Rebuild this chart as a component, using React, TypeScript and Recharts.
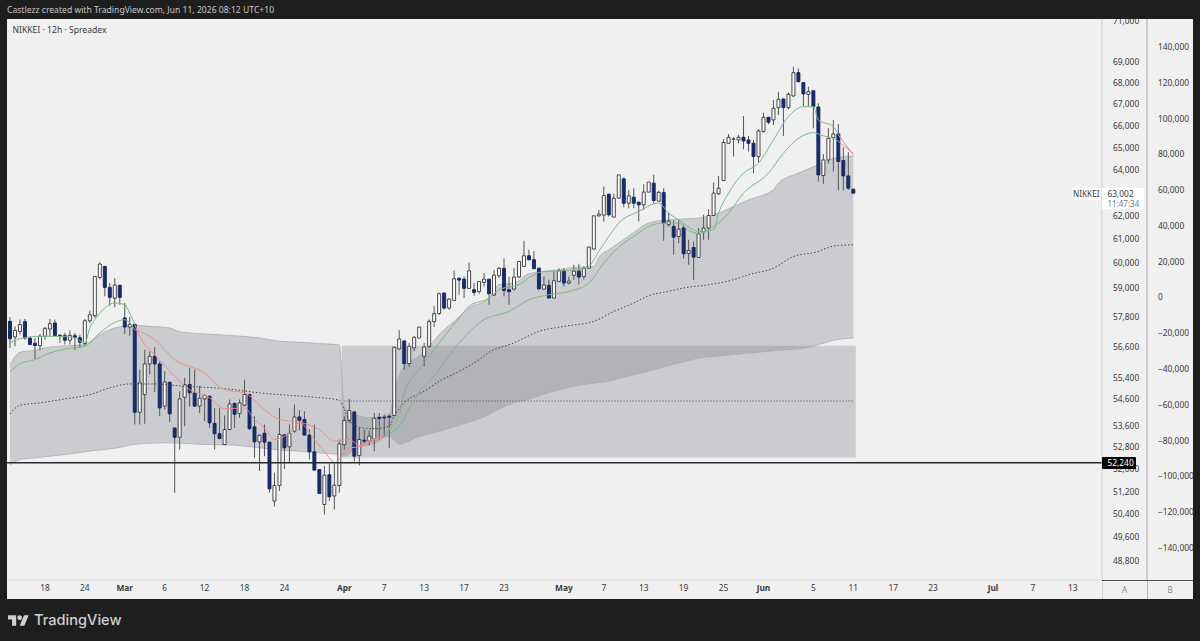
import React from "react";
import { ComposedChart, Area, Bar, Cell, Line, XAxis, YAxis, ReferenceArea, ReferenceLine } from "recharts";

const opens = [
  57630,57010,57230,57620,56970,56760,56670,57035,57325,57565,
  57075,57060,56880,57060,56980,56750,57655,57855,59415,59870,
  59005,58560,59090,57765,57405,57510,54105,54775,55950,56250,
  55950,54335,55245,53520,53175,54670,55155,54840,54335,54610,
  54710,53685,53305,52905,53460,54435,54055,54370,54775,53560,
  53005,53325,52995,50870,51425,53265,52820,53400,53930,53830,
  53255,52640,51995,50750,51810,51050,51425,52905,53795,54120,
  52505,53065,53030,53130,53920,53920,53955,53980,56535,56850,
  55965,56575,56970,56250,56640,57620,57940,58775,58165,58475,
  59375,59345,58965,58910,58840,59210,59345,58690,59485,59790,
  58910,58935,59430,59870,60315,60150,59800,58935,59090,58570,
  59250,59690,59185,59500,59675,59455,59800,60595,62010,62040,
  62950,61955,62775,63620,62555,62820,62600,62485,63040,63435,
  62645,63025,61630,61555,61130,61495,60410,60665,60245,61325,
  61485,62025,62965,63550,65215,65395,65365,65485,65365,65215,
  64615,65745,66400,66280,66850,67250,66850,67390,68490,68020,
  67470,67640,66880,63770,64465,65470,65640,64435,63755,63170,
];
const closes = [
  56940,57270,57500,56970,56710,56670,57040,57350,57540,57060,
  57035,56880,57075,57000,56800,57655,57895,59455,59970,59005,
  58600,59100,58600,57405,57510,54105,55220,55950,56250,55950,
  54270,55255,54045,53175,54610,55155,54840,54335,54635,54740,
  53710,53305,53130,53460,54420,54030,54460,54775,53495,53005,
  53250,52995,51305,51425,53280,52785,53325,53930,53805,53255,
  52640,51975,51140,51795,51025,51435,52930,53795,54170,52480,
  53090,53030,53215,53880,53870,53895,53920,56600,56930,55965,
  56640,56995,57405,56615,57630,57940,58745,58165,58530,59360,
  59305,58965,59690,58800,59250,59345,58745,59510,59790,58880,
  58830,59430,60080,60315,60150,59775,58950,59105,58570,59280,
  59690,59185,59265,59675,59430,59790,60680,62010,62085,62890,
  62055,62775,63800,62555,62880,62555,62485,63040,63480,62675,
  63025,61700,61785,61100,61440,60395,60540,60260,61240,61485,
  62025,62995,63215,65250,65485,65410,65485,65320,65215,64615,
  65775,66400,66175,66815,67235,66850,67470,68490,68065,67485,
  67595,66895,63800,64465,65440,65640,64395,63755,63215,62995,
];
const highs = [
  57800,57430,57700,57720,56970,56960,57130,57405,57720,57700,
  57130,57170,57270,57170,57100,57720,58070,59455,60040,59900,
  59185,59385,59115,58370,57805,57540,55730,56510,56445,56615,
  56050,55665,55245,53520,54900,55410,55795,55730,55115,54775,
  54740,54270,54270,53980,54585,54485,54585,55345,54810,53955,
  53280,53645,52995,51880,54270,53280,53645,54395,54185,54145,
  53460,53645,52020,52120,52215,52215,53090,53955,54610,54145,
  53520,53460,53435,54080,54080,54020,54020,56640,57275,56903,
  56770,57035,57405,56770,57700,58235,58800,58800,58570,59705,
  59430,59455,60035,59185,59250,59595,59345,59735,59845,60205,
  59455,59800,60080,60945,60570,60500,59800,59455,59320,59665,
  59800,59800,59455,59940,59980,59870,60705,62010,62270,63290,
  62965,62965,63800,63695,63140,63210,62630,63390,63480,63800,
  63110,63215,62155,61810,61840,61625,60988,60915,61485,62055,
  62300,63460,63755,65400,65640,65485,65595,66460,65550,65365,
  65850,66615,66430,67205,67595,67285,67550,68775,68695,68020,
  67830,67640,67050,64735,65900,66280,66095,65035,64810,63170,
];
const lows = [
  56575,56640,57100,56900,56710,56145,56485,56900,57035,57035,
  56770,56710,56710,56510,56575,56670,57565,57760,59345,58640,
  58260,58195,58300,57130,57060,53645,53645,53680,55540,54860,
  53955,54205,53735,51165,52725,53585,54310,54310,54080,53770,
  53520,52725,53090,52905,53460,53520,53895,54335,53435,52420,
  51940,52480,51165,50670,51225,52020,52240,53340,53435,53240,
  52360,51975,51140,50400,50870,50575,51165,52725,53710,52300,
  52145,52945,52870,52660,53090,53190,52785,53955,56510,55731,
  55835,56445,56970,55860,56575,57405,57900,58100,58100,58475,
  58705,58570,58935,58665,58745,59045,58300,58665,59390,58635,
  58300,58880,59390,59870,60120,59760,58880,58910,58570,58570,
  59250,59045,59120,59320,59120,59320,59760,60595,61985,61770,
  61985,61955,62775,62385,62340,62340,61770,62270,63040,62530,
  62630,60945,61555,60355,60845,60190,59940,59320,60245,60988,
  60988,62010,62920,63550,65215,64615,65215,64945,64840,63875,
  64365,65700,66095,66050,66510,65550,66770,67360,68020,66925,
  66895,65900,63505,63405,64290,63950,63110,63110,63140,62995,
];

// [candle number, upper, lower] of the anchored VWAP-style band
const bandPoints: [number, number, number][] = [
  [1,55925,52160],[3,56405,52360],[6,56485,52420],[9,56615,52480],[12,56655,52540],
  [16,56710,52640],[18,56970,52690],[20,57205,52730],[22,57365,52770],[26,57470,52920],
  [29,57430,52955],[33,57365,52970],[35,57220,52960],[39,57140,52915],[46,57060,52885],
  [51,56970,52790],[55,56840,52710],[59,56800,52660],[63,56750,52600],[67,56695,52540],
  [68,54335,52480],[70,54020,52724],[74,53895,52950],[77,54020,53215],[78,54840,53060],
  [79,55475,52910],[80,55860,52960],[83,56250,53200],[85,56640,53300],[87,57100,53400],
  [90,57630,53560],[93,58165,53730],[97,58570,54020],[99,59120,54230],[102,59185,54460],
  [105,59570,54600],[108,59665,54790],[111,59733,54950],[114,59830,55090],[118,59870,55210],
  [119,60250,55230],[121,60567,55290],[123,60850,55390],[126,61300,55530],[129,61700,55680],
  [133,61840,55890],[136,61880,56030],[139,61910,56185],[143,62125,56260],[146,62415,56315],
  [149,62703,56370],[154,63140,56470],[155,63435,56490],[159,63875,56540],[163,64245,56705],
  [166,64540,56875],[170,64645,56970],
];
const midPoints: [number, number][] = [
  [1,54045],[3,54370],[7,54460],[12,54610],[17,54775],[21,55030],[25,55180],[30,55180],
  [36,55090],[42,55030],[46,54964],[50,54860],[56,54760],[62,54675],[67,54560],[68,54207],
  [69,53832],[70,53585],[74,53490],[77,53585],[78,53960],[80,54460],[84,54900],[87,55280],
  [91,55665],[95,56119],[97,56405],[102,56775],[107,57230],[112,57430],[118,57630],[122,58030],
  [126,58370],[129,58665],[133,58845],[136,58980],[141,59115],[146,59320],[149,59525],[154,59800],
  [158,60285],[163,60495],[165,60665],[167,60750],[170,60775],
];
const fastGreen1: [number, number][] = [
  [1,56770],[3,56940],[7,57035],[10,57035],[14,56970],[16,56770],[17,57365],[18,57700],[19,57960],
  [20,58170],[22,58370],[24,58300],[25,57960],[26,57510],
];
const fastRed1: [number, number][] = [
  [26,57510],[27,57035],[30,56315],[34,55475],[37,54964],[41,54650],[44,54235],[48,54270],[50,53832],
  [52,53520],[54,53091],[57,53335],[59,53710],[62,53091],[65,52420],[66,52240],[68,52600],[69,52785],
  [71,52820],[74,53091],[76,53215],
];
const fastGreen2: [number, number][] = [
  [76,53215],[77,53460],[79,54020],[80,54840],[83,55731],[87,56770],[91,57765],[93,58235],[97,58570],
  [99,58910],[103,59120],[106,59530],[108,59665],[112,59690],[115,59760],[117,59870],[119,60500],
  [121,61130],[123,61700],[127,62200],[131,62560],[133,62125],[135,61840],[138,61412],[139,61340],
  [142,61412],[143,62125],[145,62995],[148,63875],[151,64320],[154,65367],[157,66435],[160,66895],
  [162,66895],[163,66280],[166,65975],[167,65595],
];
const fastRed2: [number, number][] = [[167,65595],[170,64690]];
const slowGreen1: [number, number][] = [
  [1,55640],[3,55960],[6,56119],[9,56380],[12,56535],[16,56640],[19,57170],[22,57590],[24,57697],
  [25,57565],[26,57299],
];
const slowRed1: [number, number][] = [
  [26,57299],[30,56903],[34,56119],[40,55600],[44,54964],[48,54840],[52,54207],[55,53832],[59,53735],
  [63,53460],[66,53030],[69,53091],[71,52880],[74,53130],[76,53215],
];
const slowGreen2: [number, number][] = [
  [76,53215],[77,53300],[79,53585],[82,54584],[87,55731],[91,56770],[96,57697],[101,58030],[105,58503],
  [109,58705],[113,58840],[117,59185],[120,60010],[124,60850],[126,61130],[129,61555],[132,61700],
  [135,61700],[137,61385],[139,61270],[142,61555],[145,62125],[148,62995],[153,63875],[156,64765],
  [159,65440],[162,65700],[164,65550],[166,65440],[167,65300],
];
const slowRed2: [number, number][] = [[167,65300],[170,64765]];

const dateTickIndex = [7,15,23,31,39,47,55,67,75,83,91,99,111,119,127,135,143,151,161,169,177,185,197,205,213];
const dateTickLabels = ["18","24","Mar","6","12","18","24","Apr","7","13","17","23","May","7","13","19","25","Jun","5","11","17","23","Jul","7","13"];
const monthLabels = ["Mar","Apr","May","Jun","Jul"];

const priceTicks = [71000,69000,68000,67000,66000,65000,64000,62000,61000,60000,59000,57800,56600,55400,54600,53600,52800,52000,51200,50400,49600,48800];
const scaleBTicks = [140000,120000,100000,80000,60000,40000,20000,0,-20000,-40000,-60000,-80000,-100000,-120000,-140000];

const SLOT_COUNT = 219;
const PRICE_DOMAIN = [48158, 71091];
const B_DOMAIN = [-157900, 155650];
const LEVEL = 52240;
const ZONE_TOP = 56666;
const ZONE_BOTTOM = 52420;
const ZONE_MID = 54530;
const ZONE_START = 67;
const ZONE_END = 169;

const lineSeries: { key: string; pts: [number, number][]; color: string }[] = [
  { key: "fastG1", pts: fastGreen1, color: "#7db886" },
  { key: "fastR1", pts: fastRed1, color: "#ee8c8c" },
  { key: "fastG2", pts: fastGreen2, color: "#7db886" },
  { key: "fastR2", pts: fastRed2, color: "#ee8c8c" },
  { key: "slowG1", pts: slowGreen1, color: "#7db886" },
  { key: "slowR1", pts: slowRed1, color: "#ee8c8c" },
  { key: "slowG2", pts: slowGreen2, color: "#7db886" },
  { key: "slowR2", pts: slowRed2, color: "#ee8c8c" },
];

const rows: Record<string, any>[] = Array.from({ length: SLOT_COUNT }, (_, i) => {
  const row: Record<string, any> = { i };
  if (i < opens.length) {
    row.wick = [lows[i], highs[i]];
    row.body = [Math.min(opens[i], closes[i]), Math.max(opens[i], closes[i])];
  }
  return row;
});
bandPoints.forEach(([n, up, lo]) => { rows[n - 1].band = [lo, up]; });
midPoints.forEach(([n, v]) => { rows[n - 1].mid = v; });
lineSeries.forEach((s) => s.pts.forEach(([n, v]) => { rows[n - 1][s.key] = v; }));

const FONT = "'Noto Sans', sans-serif";
const TEXT = "#3a3a3a";
const fmtA = (v: number) => v.toLocaleString("en-US");
const fmtB = (v: number) => (v < 0 ? "\u2212" : "") + Math.abs(v).toLocaleString("en-US");

const DateTick = (props: any) => {
  const { x, y, payload } = props;
  const label = dateTickLabels[dateTickIndex.indexOf(payload.value)];
  return (
    <text x={x} y={y + 3} textAnchor="middle" fontFamily={FONT} fontSize={8.4} fill={TEXT}
      fontWeight={monthLabels.includes(label) ? 700 : 400}>{label}</text>
  );
};

const abs = (s: React.CSSProperties): React.CSSProperties => ({ position: "absolute", ...s });

export default function App() {
  return (
    <div style={{ position: "fixed", left: 0, top: 0, width: 1200, height: 641, background: "#1e1e1e", overflow: "hidden", fontFamily: FONT }}>
      <div style={abs({ left: 7.3, top: 19, width: 1185.4, height: 580, background: "#f0f0f0" })} />
      <div style={abs({ left: 0, top: 0 })}>
        <ComposedChart width={1200} height={641} data={rows} margin={{ top: 19, right: 7, bottom: 42, left: 7 }}>
          <XAxis dataKey="i" height={19} ticks={dateTickIndex} interval={0} padding={{ left: 0.5, right: 1.7 }}
            tick={<DateTick />} tickLine={false} axisLine={{ stroke: "#dcdcdc" }} />
          <XAxis xAxisId="wick" dataKey="i" hide padding={{ left: 0.5, right: 1.7 }} />
          <YAxis yAxisId="a" orientation="right" width={45} scale="log" domain={PRICE_DOMAIN} allowDataOverflow
            ticks={priceTicks} interval={0} tickFormatter={fmtA} tickLine={false} tickMargin={5}
            axisLine={{ stroke: "#cfcfcf" }} tick={{ fontFamily: FONT, fontSize: 8.4, fill: TEXT }} />
          <YAxis yAxisId="b" orientation="right" width={46} domain={B_DOMAIN} allowDataOverflow
            ticks={scaleBTicks} interval={0} tickFormatter={fmtB} tickLine={false} tickMargin={5}
            axisLine={{ stroke: "#a8a8a8" }} tick={{ fontFamily: FONT, fontSize: 8.4, fill: TEXT }} />

          <ReferenceArea yAxisId="a" x1={ZONE_START} x2={ZONE_END} y1={ZONE_TOP} y2={ZONE_BOTTOM}
            fill="#787b86" fillOpacity={0.3} stroke="none" />
          <Area yAxisId="a" dataKey="band" type="monotone" connectNulls isAnimationActive={false}
            fill="#787b86" fillOpacity={0.3} stroke="#a9abb0" strokeWidth={0.8} dot={false} activeDot={false} />
          <ReferenceLine yAxisId="a" segment={[{ x: ZONE_START, y: ZONE_MID }, { x: ZONE_END, y: ZONE_MID }]}
            stroke="#555" strokeWidth={0.8} strokeDasharray="1.5 1.5" />
          <Line yAxisId="a" dataKey="mid" type="monotone" connectNulls isAnimationActive={false}
            stroke="#444" strokeWidth={1} strokeDasharray="1.5 2" dot={false} activeDot={false} />
          {lineSeries.map((s) => (
            <Line key={s.key} yAxisId="a" dataKey={s.key} type="monotone" connectNulls isAnimationActive={false}
              stroke={s.color} strokeWidth={1} dot={false} activeDot={false} />
          ))}
          <ReferenceLine yAxisId="a" y={LEVEL} stroke="#2a2a2a" strokeWidth={1.4} />
          <Bar xAxisId="wick" yAxisId="a" dataKey="wick" barSize={1} fill="#555" isAnimationActive={false} />
          <Bar yAxisId="a" dataKey="body" barSize={3} isAnimationActive={false} strokeWidth={0.9}>
            {rows.map((r) => {
              const up = r.i < opens.length && closes[r.i] >= opens[r.i];
              return <Cell key={r.i} fill={up ? "#ffffff" : "#152c75"} stroke={up ? "#333" : "#14245c"} />;
            })}
          </Bar>
        </ComposedChart>
      </div>

      {/* header and footer */}
      <div style={abs({ left: 0, top: 0, width: 1200, height: 19, background: "#1e1e1e" })} />
      <div style={abs({ left: 7, top: 4, fontSize: 8.6, lineHeight: "12px", color: "#c8c8c8", whiteSpace: "nowrap" })}>
        Castlezz created with TradingView.com, Jun 11, 2026 08:12 UTC+10
      </div>
      <div style={abs({ left: 12.5, top: 24, fontSize: 8.6, lineHeight: "12px", color: TEXT, whiteSpace: "nowrap" })}>
        NIKKEI · 12h · Spreadex
      </div>

      {/* axis footers */}
      <div style={abs({ left: 1101.5, top: 580, width: 91.2, height: 1, background: "#555" })} />
      <div style={abs({ left: 1101.5, top: 581, width: 1, height: 18, background: "#d4d4d4" })} />
      <div style={abs({ left: 1146.5, top: 581, width: 1, height: 18, background: "#b0b0b0" })} />
      <div style={abs({ left: 1102, top: 584, width: 45, textAlign: "center", fontSize: 8, lineHeight: "12px", color: "#8a8a8a" })}>A</div>
      <div style={abs({ left: 1147, top: 584, width: 46, textAlign: "center", fontSize: 8, lineHeight: "12px", color: "#8a8a8a" })}>B</div>

      {/* price tags */}
      <div style={abs({ left: 1072, top: 187.5, width: 28.5, height: 12.5, background: "#fff", color: TEXT, fontSize: 8.2, lineHeight: "12.5px", textAlign: "center" })}>NIKKEI</div>
      <div style={abs({ left: 1102, top: 187.5, width: 41.5, height: 21.5, background: "#fff" })}>
        <div style={abs({ left: 5.5, top: 0, fontSize: 8.4, lineHeight: "12px", color: TEXT })}>63,002</div>
        <div style={abs({ left: 5.5, top: 10.5, fontSize: 8, lineHeight: "11px", color: "#7a7a7a" })}>11:47:34</div>
      </div>
      <div style={abs({ left: 1102, top: 457.3, width: 33.7, height: 12.2, background: "#000", borderRadius: 1, color: "#fff", fontSize: 8.4, lineHeight: "12px", paddingLeft: 5.5, boxSizing: "border-box" })}>52,240</div>

      {/* logo */}
      <svg style={abs({ left: 8, top: 613 })} width={21} height={14} viewBox="0 0 36 24">
        <path d="M14 22H7V11H0V4h14v18zM28 22h-8l7.5-18h8L28 22z" fill="#d0d0d0" />
        <circle cx="20" cy="8" r="4" fill="#d0d0d0" />
      </svg>
      <div style={abs({ left: 34, top: 611, fontFamily: "Inter, sans-serif", fontWeight: 500, fontSize: 14.6, lineHeight: "18px", color: "#d0d0d0", whiteSpace: "nowrap" })}>TradingView</div>
    </div>
  );
}
